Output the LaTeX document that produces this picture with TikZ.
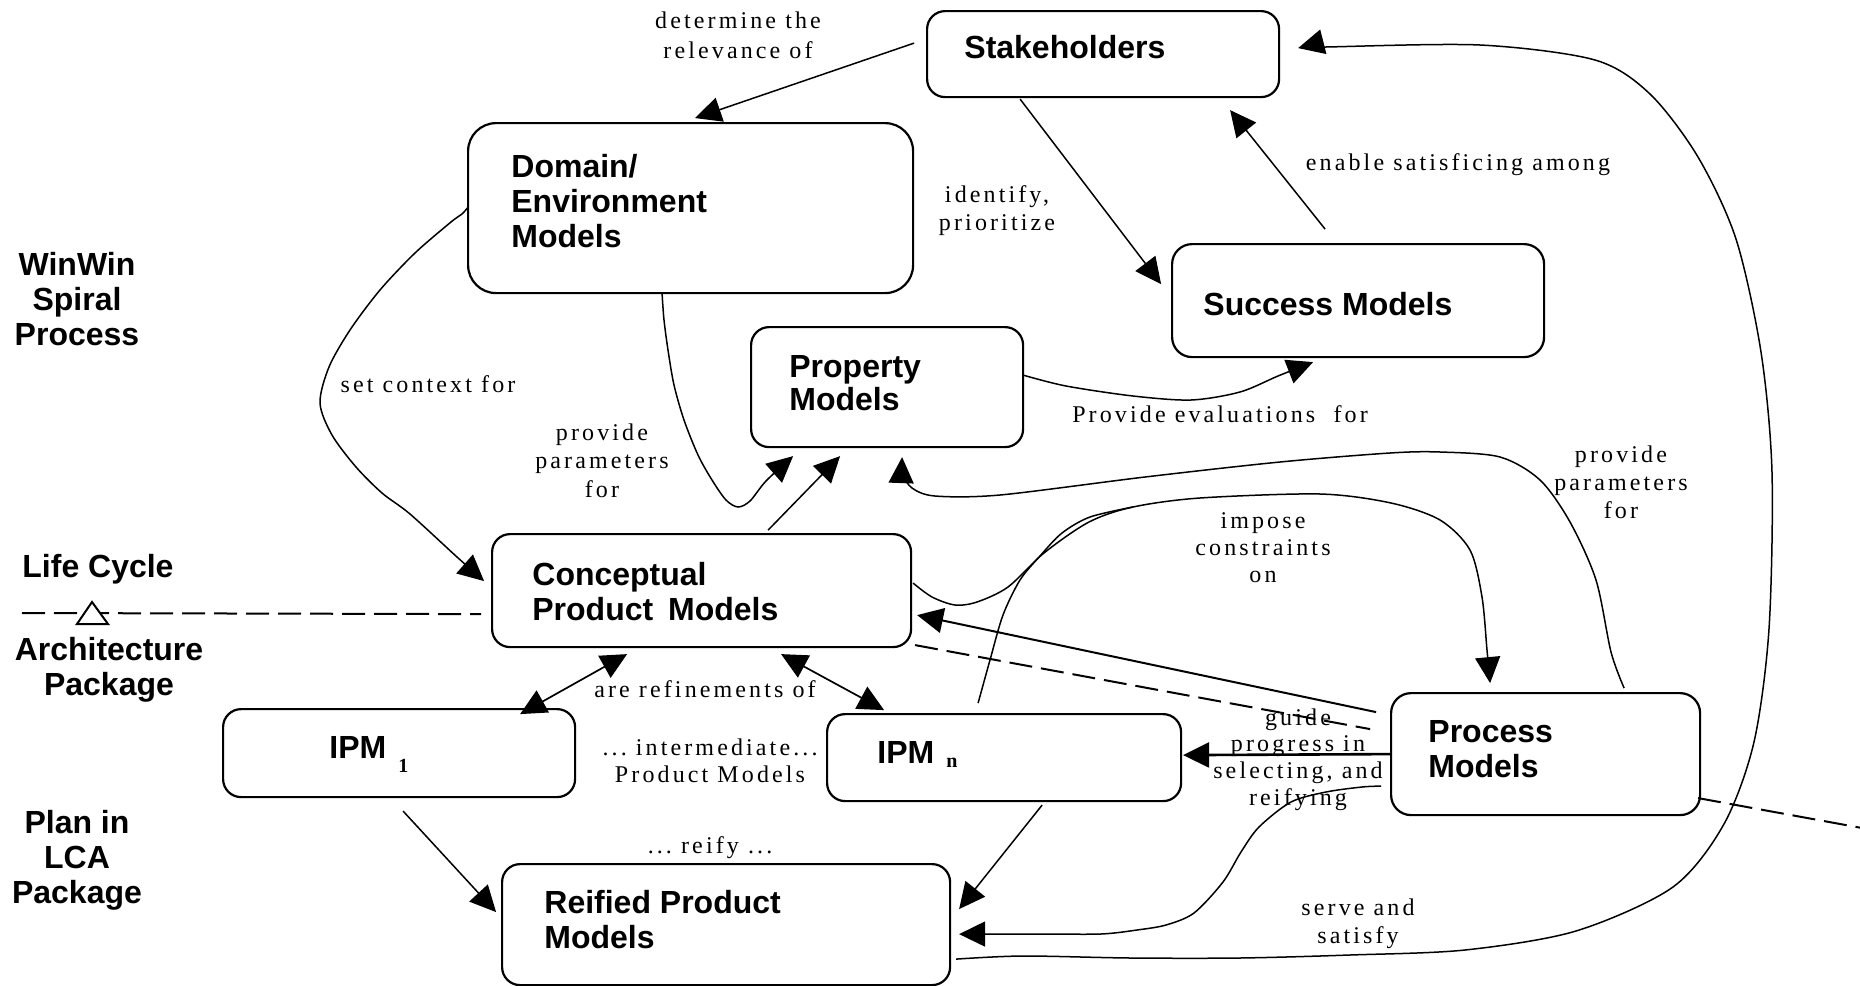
\documentclass[tikz,border=0pt]{standalone}
\usepackage{fontspec}
\setmainfont{Liberation Serif}
\newfontfamily\hv{Liberation Sans}
\newfontfamily\tm{Liberation Serif}[LetterSpace=13]
\newfontfamily\tmsub{Liberation Serif}
\usetikzlibrary{arrows.meta,calc}
\tikzset{
  box/.style={draw, line width=1.1pt, rounded corners=9pt, inner sep=0pt, anchor=north west},
  btxt/.style={anchor=base west, inner sep=0pt, align=left, font=\hv\bfseries\fontsize{16}{17.5}\selectfont},
  ctxt/.style={anchor=base, inner sep=0pt, align=center, font=\hv\bfseries\fontsize{16}{17.5}\selectfont},
  lbl/.style={anchor=base, inner sep=0pt, align=center, font=\tm\fontsize{12}{14}\selectfont},
  tip/.style={-{Triangle[length=13pt,width=12.5pt]}},
  conn/.style={line width=0.75pt, tip},
  dbl/.style={line width=0.85pt, {Triangle[length=13pt,width=12.5pt]}-{Triangle[length=13pt,width=12.5pt]}},
  dsh/.style={line width=1pt, dash pattern=on 11.5pt off 4.5pt},
  crv/.style={line width=0.75pt}
}
\begin{document}
\begin{tikzpicture}[x=0.5pt,y=-0.5pt]
\useasboundingbox (0,0) rectangle (1860,986);
\fill[white] (0,0) rectangle (1860,986);

% ---------------- boxes
\node[box, minimum width=176pt, minimum height=43pt] (stk) at (926,10) {};
\node[box, minimum width=222.5pt, minimum height=85pt, rounded corners=14pt] (dom) at (467,122) {};
\node[box, minimum width=186pt, minimum height=56.5pt, rounded corners=10pt] (suc) at (1171,243) {};
\node[box, minimum width=136pt, minimum height=60pt] (prop) at (750,326) {};
\node[box, minimum width=209.5pt, minimum height=56.5pt] (conc) at (491,533) {};
\node[box, minimum width=176pt, minimum height=44pt] (ipm1) at (222,708) {};
\node[box, minimum width=177pt, minimum height=43.5pt] (ipmn) at (826,713) {};
\node[box, minimum width=154.5pt, minimum height=61pt, rounded corners=10pt] (proc) at (1390,692) {};
\node[box, minimum width=224pt, minimum height=60.5pt] (reif) at (501,863) {};

% ---------------- box texts (base = last line)
\node[btxt] (tstk) at (964,58) {Stakeholders};
\node[btxt] (tdom) at (511,247) {Domain/\\Environment\\Models};
\node[btxt] (tsuc) at (1203,315) {Success Models};
\node[btxt, font=\hv\bfseries\fontsize{16}{16.5}\selectfont] (tprop) at (789,410) {Property\\Models};
\node[btxt] (tconc) at (532,620) {Conceptual\\Product\hspace{3pt} Models};
\node[btxt] (tipm1) at (329,758) {IPM\hspace{6pt}\raisebox{-7pt}{\tmsub\bfseries\fontsize{10}{10}\selectfont 1}};
\node[btxt] (tipmn) at (877,763) {IPM\hspace{6pt}\raisebox{-2pt}{\tmsub\bfseries\fontsize{10}{10}\selectfont n}};
\node[btxt] (tproc) at (1428,777) {Process\\Models};
\node[btxt] (treif) at (544,948) {Reified Product\\Models};

% ---------------- side labels
\node[ctxt] (lww) at (77,345) {WinWin\\Spiral\\Process};
\node[btxt] (llc) at (22,577) {Life Cycle};
\node[ctxt] (larch) at (109,695) {Architecture\\Package};
\node[ctxt] (lplan) at (77,903) {Plan in\\LCA\\Package};

% ---------------- connector labels (base = last line)
\node[lbl, font=\tm\fontsize{12}{15}\selectfont] (l1) at (738,58) {determine the\\relevance of};
\node[lbl] (l2) at (997,230) {identify,\\prioritize};
\node[lbl] (l3) at (1458,170) {enable satisficing among};
\node[lbl] (l4) at (428,392) {set context for};
\node[lbl, font=\tm\fontsize{12}{14.25}\selectfont] (l5) at (602,497) {provide\\parameters\\for};
\node[lbl] (l6) at (1220,422) {Provide evaluations\ \ for};
\node[lbl] (l7) at (1621,518) {provide\\parameters\\for};
\node[lbl, font=\tm\fontsize{12}{13.5}\selectfont] (l8) at (1263,582) {impose\\constraints\\on};
\node[lbl] (l9) at (705,697) {are refinements of};
\node[lbl, font=\tm\fontsize{12}{13.5}\selectfont] (l10) at (710,782) {...\ intermediate...\\Product Models};
\node[lbl] (l11) at (710,853) {...\ reify ...};
\node[lbl, font=\tm\fontsize{12}{13.3}\selectfont] (l12) at (1298,805) {guide\\progress in\\selecting, and\\reifying};
\node[lbl] (l13) at (1358,943) {serve and\\satisfy};

% ---------------- life-cycle package line
\coordinate (lcL) at (22,613);
\draw[dsh] (lcL) -- ([shift={(-220.5,23.5)}]conc.center);
\coordinate (tri) at (92,613);
\draw[line width=1pt, fill=white] ([shift={(0,-11)}]tri) -- ([shift={(16,11)}]tri) -- ([shift={(-15,11)}]tri) -- cycle;
\draw[dsh] ([shift={(213.5,54.5)}]conc.center) -- ([shift={(-175.5,-25)}]proc.center);
\coordinate (offR) at (1862,828);
\draw[dsh] ([shift={(152.5,44)}]proc.center) -- (offR);

% ---------------- endpoints
\coordinate (a4s) at ([shift={(-222.5,-1)}]dom.center);
\coordinate (a4e) at ([shift={(-217.5,-9.5)}]conc.center);
\coordinate (a5s) at ([shift={(-28.5,86)}]dom.center);
\coordinate (a5e) at ([shift={(-94,69)}]prop.center);
\coordinate (a7s) at ([shift={(136,-12)}]prop.center);
\coordinate (a7e) at ([shift={(-45,61.5)}]suc.center);
\coordinate (a8s) at ([shift={(78.5,-66)}]proc.center);
\coordinate (a8e) at ([shift={(15,70)}]prop.center);
\coordinate (a9s) at ([shift={(211.5,-7.5)}]conc.center);
\coordinate (a9e) at ([shift={(-55.5,-71)}]proc.center);
\coordinate (a10s) at ([shift={(-26,-54.5)}]ipmn.center);
\coordinate (join) at (1133,507);
\coordinate (a18s) at ([shift={(-164.5,32)}]proc.center);
\coordinate (a18e) at ([shift={(233,9.5)}]reif.center);
\coordinate (a19s) at ([shift={(230,34.5)}]reif.center);
\coordinate (a19e) at ([shift={(195,-6)}]stk.center);

% ---------------- straight connectors
\draw[conn] ([shift={(-189,-11)}]stk.center) -- ([shift={(4.5,-90)}]dom.center);
\draw[conn] ([shift={(-83,45)}]stk.center) -- ([shift={(-197,-16.5)}]suc.center);
\draw[conn] ([shift={(-33,-71.5)}]suc.center) -- ([shift={(127,56)}]stk.center);
\draw[conn] ([shift={(66.5,-60.5)}]conc.center) -- ([shift={(-47,69)}]prop.center);
\draw[conn, line width=1pt] ([shift={(-169.5,-42)}]proc.center) -- ([shift={(215.5,24.5)}]conc.center);
\draw[dbl] ([shift={(-74.5,63.5)}]conc.center) -- ([shift={(121,-39)}]ipm1.center);
\draw[dbl] ([shift={(79.5,63.5)}]conc.center) -- ([shift={(-120,-47.5)}]ipmn.center);
\draw[conn] ([shift={(4,58)}]ipm1.center) -- ([shift={(-230,-12.5)}]reif.center);
\draw[conn] ([shift={(38,47.5)}]ipmn.center) -- ([shift={(233,-15.5)}]reif.center);
\draw[conn, line width=1.3pt] (proc.west) -- ([shift={(179,-2.5)}]ipmn.center);

% ---------------- curved connectors
\draw[conn] plot[smooth] coordinates {(a4s) (462,214) (451,222) (415,253) (380,290) (350,330) (329,367) (320,403) (332,435) (356,467) (382,493) (410,514) (457,557) (a4e)};
\draw[conn] plot[smooth] coordinates {(a5s) (664,320) (668,350) (674,385) (684,420) (698,455) (712,480) (726,500) (738,507) (750,501) (766,481) (a5e)};
\draw[conn] plot[smooth] coordinates {(a7s) (1066,386) (1133,396) (1191,400) (1240,392) (1278,376) (a7e)};
\draw[conn] plot[smooth] coordinates {(a8s) (1611,652) (1596,580) (1570,522) (1540,480) (1500,457) (1440,452) (1390,453) (1280,462) (1145,477) (1000,495) (935,496) (912,488) (903,474) (a8e)};
\draw[conn] plot[smooth] coordinates {(a9s) (932,597) (955,605) (977,602) (1008,587) (1044,553) (1089,522) (join) (1200,498) (1320,494) (1391,503) (1440,520) (1470,550) (1482,597) (1487,650) (a9e)};
\draw[crv] plot[smooth] coordinates {(a10s) (990,660) (1003,615) (1020,580) (1040,556) (1062,533) (1090,517) (join)};
\draw[conn] plot[smooth] coordinates {(a18s) (1362,787) (1326,792) (1291,802) (1259,827) (1241,852) (1223,882) (1194,913) (1166,925) (1137,930) (1101,934) (1040,934) (a18e)};
\draw[conn] plot[smooth] coordinates {(a19s) (1023,956) (1130,958) (1240,958) (1350,955) (1465,950) (1576,931) (1673,887) (1724,824) (1754,742) (1769,629) (1772,472) (1761,352) (1736,239) (1698,157) (1650,94) (1595,60) (1480,45) (1326,47) (a19e)};
\end{tikzpicture}
\end{document}
